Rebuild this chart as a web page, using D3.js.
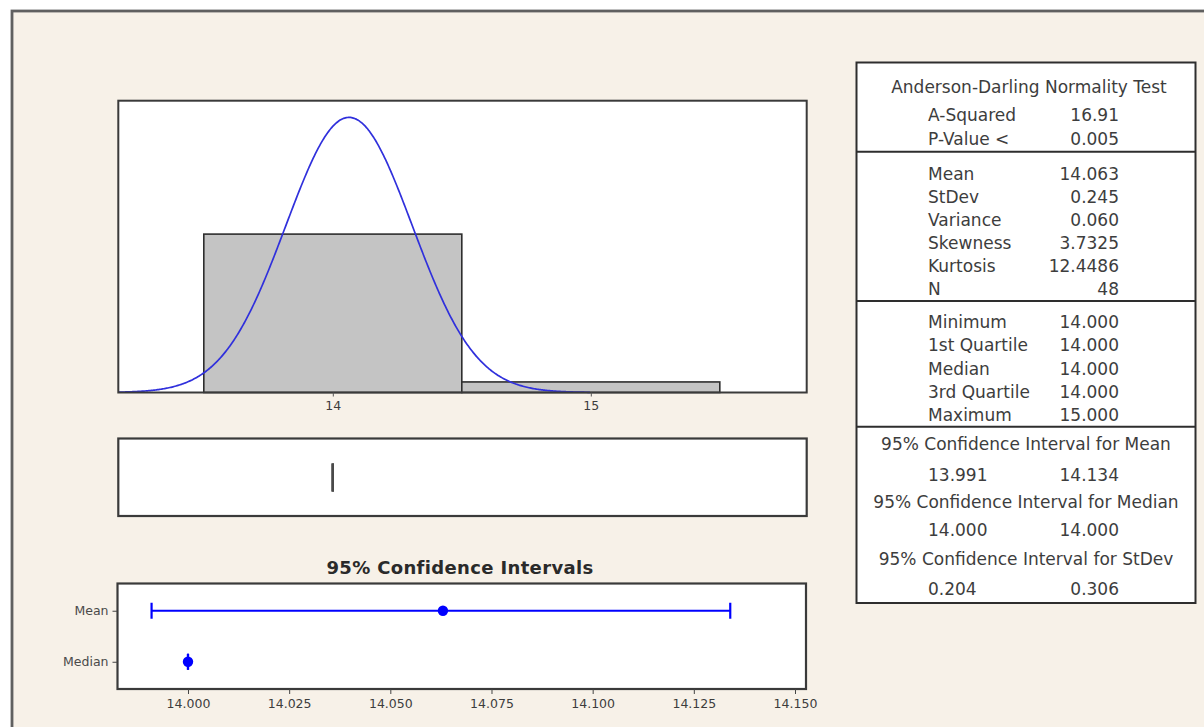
<!DOCTYPE html>
<html>
<head>
<meta charset="utf-8">
<script src="https://cdn.jsdelivr.net/npm/d3@7"></script>
<style>
  html, body { margin: 0; padding: 0; background: #ffffff; }
  svg { display: block; }
</style>
</head>
<body>
<svg id="chart" width="1204" height="727"></svg>
<script>
// ---- Histogram of the sample ----
const binEdges = [13.5, 14.5, 15.5];
const binCounts = [45, 3];
const histTicks = [14, 15];
const sampleMean = 14.063;
const sampleStDev = 0.245;
const sampleVariance = 0.060;
const sampleN = 48;

// ---- Boxplot: Q1, median, Q3 (all equal here) ----
const boxQuartiles = [14.000, 14.000, 14.000];
const sampleMin = 14.000;
const sampleMax = 15.000;

// ---- 95% confidence intervals ----
const ciRows = ["Mean", "Median"];
const ciCenter = [14.063, 14.000];
const ciLower = [13.991, 14.000];
const ciUpper = [14.134, 14.000];
const ciTicks = [14.000, 14.025, 14.050, 14.075, 14.100, 14.125, 14.150];
const stDevLower = 0.204;
const stDevUpper = 0.306;

// ---- Normality test and shape statistics ----
const aSquared = 16.91;
const pValueBound = 0.005;
const skewness = 3.7325;
const kurtosis = 12.4486;

const svg = d3.select("#chart");
const ink = "#3a3a3a";
const textInk = "#3d3d3d";
const blue = "#0000ff";
const font = "'DejaVu Sans', Verdana, sans-serif";

// Outer graph window
svg.append("rect")
  .attr("x", 12).attr("y", 11)
  .attr("width", 1230).attr("height", 740)
  .attr("fill", "#f7f1e8")
  .attr("stroke", "#606060").attr("stroke-width", 2.8);

// ================= Histogram panel =================
const hist = { left: 118.3, right: 806.7, top: 100.7, bottom: 392.5 };
const xHist = d3.scaleLinear().domain([13.1686, 15.8368]).range([hist.left, hist.right]);
const yHist = d3.scaleLinear().domain([0, 82.9]).range([hist.bottom, hist.top]);

svg.append("rect")
  .attr("x", hist.left).attr("y", hist.top)
  .attr("width", hist.right - hist.left).attr("height", hist.bottom - hist.top)
  .attr("fill", "#ffffff");

const bins = binCounts.map((c, i) => ({ x0: binEdges[i], x1: binEdges[i + 1], count: c }));
svg.append("g").selectAll("rect").data(bins).join("rect")
  .attr("x", d => xHist(d.x0))
  .attr("y", d => yHist(d.count))
  .attr("width", d => xHist(d.x1) - xHist(d.x0))
  .attr("height", d => yHist(0) - yHist(d.count))
  .attr("fill", "#c4c4c4")
  .attr("stroke", "#2e2e2e").attr("stroke-width", 1.6);

// Fitted normal curve scaled to counts per bin
const binWidth = binEdges[1] - binEdges[0];
const normalPdf = x => Math.exp(-0.5 * ((x - sampleMean) / sampleStDev) ** 2) / (sampleStDev * Math.sqrt(2 * Math.PI));
const curveXs = d3.range(xHist.domain()[0], sampleMax + 0.0001, 0.004);
svg.append("path")
  .datum(curveXs)
  .attr("fill", "none")
  .attr("stroke", "#3030dc").attr("stroke-width", 1.7)
  .attr("d", d3.line()
    .x(x => xHist(x))
    .y(x => yHist(sampleN * binWidth * normalPdf(x)))
    .curve(d3.curveBasis));

svg.append("rect")
  .attr("x", hist.left).attr("y", hist.top)
  .attr("width", hist.right - hist.left).attr("height", hist.bottom - hist.top)
  .attr("fill", "none").attr("stroke", ink).attr("stroke-width", 2);

const histAxis = svg.append("g")
  .attr("transform", `translate(0,${hist.bottom})`)
  .call(d3.axisBottom(xHist).tickValues(histTicks).tickSize(4).tickPadding(5).tickFormat(d3.format("d")));
histAxis.select(".domain").remove();
histAxis.selectAll("line").attr("stroke", "#555");
histAxis.selectAll("text").attr("font-family", font).attr("font-size", 12.5).attr("fill", textInk);

// ================= Boxplot panel =================
const box = { left: 118.3, right: 806.7, top: 438.5, bottom: 516 };
svg.append("rect")
  .attr("x", box.left).attr("y", box.top)
  .attr("width", box.right - box.left).attr("height", box.bottom - box.top)
  .attr("fill", "#ffffff").attr("stroke", ink).attr("stroke-width", 2.2);
svg.append("g").selectAll("line").data(boxQuartiles).join("line")
  .attr("x1", d => xHist(d)).attr("x2", d => xHist(d))
  .attr("y1", 463.5).attr("y2", 491.5)
  .attr("stroke", "#4a4a4a").attr("stroke-width", 2.4);

// ================= Confidence interval panel =================
const ci = { left: 117.5, right: 806, top: 583.5, bottom: 689 };
const xCI = d3.scaleLinear().domain([13.98258, 14.15272]).range([ci.left, ci.right]);
const yCI = d3.scalePoint().domain(ciRows).range([ci.top, ci.bottom]).padding(0.534);

svg.append("text")
  .attr("x", 460).attr("y", 573.5)
  .attr("text-anchor", "middle")
  .attr("font-family", font).attr("font-weight", "bold").attr("font-size", 18)
  .attr("letter-spacing", 0.35)
  .attr("fill", "#2a2a2a")
  .text("95% Confidence Intervals");

svg.append("rect")
  .attr("x", ci.left).attr("y", ci.top)
  .attr("width", ci.right - ci.left).attr("height", ci.bottom - ci.top)
  .attr("fill", "#ffffff").attr("stroke", ink).attr("stroke-width", 2.2);

const ciData = ciRows.map((r, i) => ({ row: r, center: ciCenter[i], lo: ciLower[i], hi: ciUpper[i] }));
const ciG = svg.append("g").selectAll("g").data(ciData).join("g")
  .attr("transform", d => `translate(0,${yCI(d.row)})`);
ciG.append("line")
  .attr("x1", d => xCI(d.lo)).attr("x2", d => xCI(d.hi))
  .attr("stroke", blue).attr("stroke-width", 1.8);
ciG.append("line")
  .attr("x1", d => xCI(d.lo)).attr("x2", d => xCI(d.lo))
  .attr("y1", -8).attr("y2", 8)
  .attr("stroke", blue).attr("stroke-width", 2.2);
ciG.append("line")
  .attr("x1", d => xCI(d.hi)).attr("x2", d => xCI(d.hi))
  .attr("y1", -8).attr("y2", 8)
  .attr("stroke", blue).attr("stroke-width", 2.2);
ciG.append("circle")
  .attr("cx", d => xCI(d.center)).attr("r", 5.2)
  .attr("fill", blue);

const ciXAxis = svg.append("g")
  .attr("transform", `translate(0,${ci.bottom})`)
  .call(d3.axisBottom(xCI).tickValues(ciTicks).tickSize(5).tickPadding(5).tickFormat(d3.format(".3f")));
ciXAxis.select(".domain").remove();
ciXAxis.selectAll("line").attr("stroke", "#444");
ciXAxis.selectAll("text").attr("font-family", font).attr("font-size", 12.5).attr("fill", textInk);

const ciYAxis = svg.append("g")
  .attr("transform", `translate(${ci.left},0)`)
  .call(d3.axisLeft(yCI).tickSize(5).tickPadding(4));
ciYAxis.select(".domain").remove();
ciYAxis.selectAll("line").attr("stroke", "#444");
ciYAxis.selectAll("text").attr("font-family", font).attr("font-size", 12.5).attr("fill", "#4a4a4a");

// ================= Summary table =================
const tbl = { left: 856.5, right: 1195.5, top: 62.5, bottom: 603 };
svg.append("rect")
  .attr("x", tbl.left).attr("y", tbl.top)
  .attr("width", tbl.right - tbl.left).attr("height", tbl.bottom - tbl.top)
  .attr("fill", "#ffffff").attr("stroke", "#2e2e2e").attr("stroke-width", 2);
[151.7, 301, 426.7].forEach(y => {
  svg.append("line")
    .attr("x1", tbl.left).attr("x2", tbl.right)
    .attr("y1", y).attr("y2", y)
    .attr("stroke", "#2e2e2e").attr("stroke-width", 2);
});

const f3 = d3.format(".3f");
const testRows = [["A-Squared", d3.format(".2f")(aSquared)], ["P-Value <", f3(pValueBound)]];
const momentRows = [
  ["Mean", f3(sampleMean)], ["StDev", f3(sampleStDev)], ["Variance", f3(sampleVariance)],
  ["Skewness", d3.format(".4f")(skewness)], ["Kurtosis", d3.format(".4f")(kurtosis)], ["N", String(sampleN)]
];
const quantileRows = [
  ["Minimum", f3(sampleMin)], ["1st Quartile", f3(boxQuartiles[0])], ["Median", f3(boxQuartiles[1])],
  ["3rd Quartile", f3(boxQuartiles[2])], ["Maximum", f3(sampleMax)]
];
const intervalRows = [
  ["95% Confidence Interval for Mean", f3(ciLower[0]), f3(ciUpper[0])],
  ["95% Confidence Interval for Median", f3(ciLower[1]), f3(ciUpper[1])],
  ["95% Confidence Interval for StDev", f3(stDevLower), f3(stDevUpper)]
];

const tFont = 17;
const labelX = 928, valueX = 1119, centerX = 1026;
const base = 6.2; // shift from row centre to text baseline
const tg = svg.append("g").attr("font-family", font).attr("font-size", tFont).attr("fill", textInk);

function rowBlock(rows, y0, step) {
  rows.forEach((r, i) => {
    const y = y0 + i * step + base;
    tg.append("text").attr("x", labelX).attr("y", y).text(r[0]);
    tg.append("text").attr("x", valueX).attr("y", y).attr("text-anchor", "end").text(r[1]);
  });
}

tg.append("text").attr("x", 1029).attr("y", 86.7 + base).attr("text-anchor", "middle")
  .text("Anderson-Darling Normality Test");
rowBlock(testRows, 115, 23.3);
rowBlock(momentRows, 173.3, 23);
rowBlock(quantileRows, 321.7, 23.3);

const intervalY = [443.3, 501.7, 558.3];
const intervalValY = [475, 530, 588.3];
intervalRows.forEach((r, i) => {
  tg.append("text").attr("x", centerX).attr("y", intervalY[i] + base).attr("text-anchor", "middle").text(r[0]);
  tg.append("text").attr("x", labelX).attr("y", intervalValY[i] + base).text(r[1]);
  tg.append("text").attr("x", valueX).attr("y", intervalValY[i] + base).attr("text-anchor", "end").text(r[2]);
});
</script>
</body>
</html>
